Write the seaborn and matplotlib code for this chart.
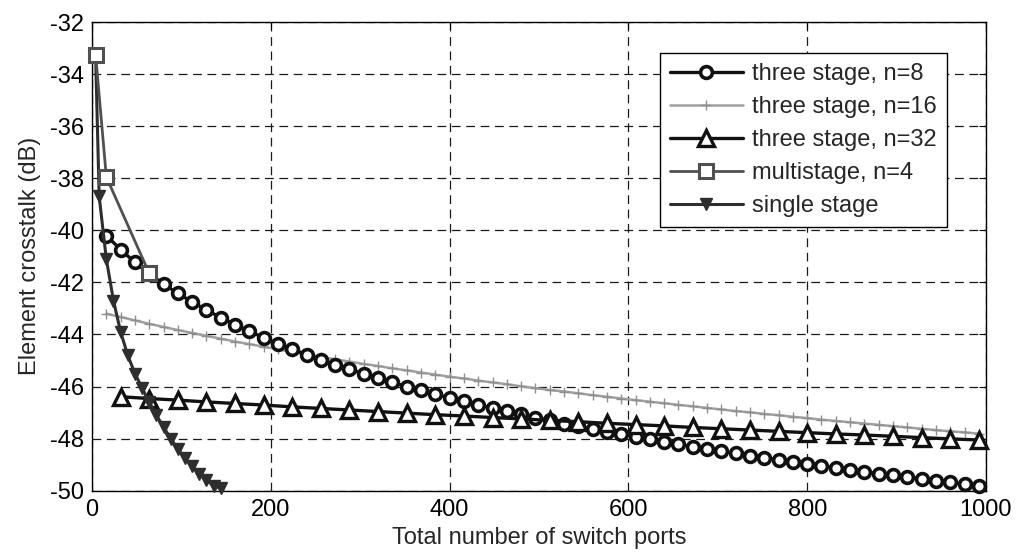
import numpy as np
import pandas as pd
import matplotlib
matplotlib.use("Agg")
import matplotlib.pyplot as plt
import seaborn as sns

# Total number of switch ports for each architecture
ports_n8 = list(range(16, 993, 16))
ports_n16 = list(range(16, 993, 16))
ports_n32 = list(range(32, 993, 32))
ports_multi = [4, 16, 64]
ports_single = [4, 8, 16, 24, 32, 40, 48, 56, 64, 72, 80, 88, 96, 104, 112, 120, 128, 136, 144]

# Required element crosstalk (dB)
xt_n8 = [-40.20, -40.74, -41.23, -41.66, -42.06, -42.42, -42.75, -43.06, -43.35, -43.62,
         -43.88, -44.12, -44.35, -44.57, -44.77, -44.97, -45.16, -45.34, -45.51, -45.68,
         -45.84, -46.00, -46.15, -46.29, -46.43, -46.57, -46.70, -46.83, -46.95, -47.07,
         -47.19, -47.30, -47.42, -47.52, -47.63, -47.73, -47.83, -47.93, -48.03, -48.12,
         -48.22, -48.31, -48.40, -48.48, -48.57, -48.65, -48.73, -48.81, -48.89, -48.97,
         -49.05, -49.12, -49.19, -49.27, -49.34, -49.41, -49.48, -49.54, -49.61, -49.68,
         -49.74, -49.81]
xt_n16 = [-43.20, -43.33, -43.46, -43.59, -43.71, -43.83, -43.94, -44.05, -44.16, -44.27,
          -44.37, -44.47, -44.57, -44.67, -44.77, -44.86, -44.95, -45.04, -45.13, -45.21,
          -45.30, -45.38, -45.46, -45.54, -45.62, -45.69, -45.77, -45.84, -45.91, -45.99,
          -46.06, -46.13, -46.19, -46.26, -46.33, -46.39, -46.46, -46.52, -46.58, -46.64,
          -46.70, -46.76, -46.82, -46.88, -46.94, -46.99, -47.05, -47.10, -47.16, -47.21,
          -47.27, -47.32, -47.37, -47.42, -47.47, -47.52, -47.57, -47.62, -47.67, -47.72,
          -47.76, -47.81]
xt_n32 = [-46.39, -46.46, -46.52, -46.59, -46.65, -46.71, -46.78, -46.84, -46.90, -46.96,
          -47.02, -47.08, -47.13, -47.19, -47.24, -47.30, -47.35, -47.41, -47.46, -47.51,
          -47.57, -47.62, -47.67, -47.72, -47.77, -47.82, -47.86, -47.91, -47.96, -48.01,
          -48.05]
xt_multi = [-33.25, -37.95, -41.65]
xt_single = [-33.25, -38.70, -41.10, -42.70, -43.90, -44.80, -45.50, -46.05, -46.60, -47.10,
             -47.55, -48.00, -48.40, -48.75, -49.05, -49.35, -49.60, -49.80, -49.90]

labels = ["three stage, n=8", "three stage, n=16", "three stage, n=32",
          "multistage, n=4", "single stage"]
x_ticks = [0, 200, 400, 600, 800, 1000]
y_ticks = [-32, -34, -36, -38, -40, -42, -44, -46, -48, -50]

sns.set_style("white")
plt.rcParams["font.family"] = ["Liberation Sans", "DejaVu Sans"]
plt.rcParams["axes.unicode_minus"] = False

fig = plt.figure(figsize=(10.19, 5.56), dpi=100)
ax = fig.add_axes([0.0903, 0.1174, 0.8773, 0.8430])

series = [
    (ports_n8, xt_n8, labels[0], dict(color="#111111", lw=2.4, marker="o", ms=8.5,
                                       mfc="white", mec="#111111", mew=2.6, zorder=4)),
    (ports_n16, xt_n16, labels[1], dict(color="#a0a0a0", lw=1.8, marker="+", ms=7,
                                         mec="#8f8f8f", mew=1.0, zorder=3)),
    (ports_n32, xt_n32, labels[2], dict(color="#111111", lw=2.4, marker="^", ms=12,
                                         mfc="white", mec="#111111", mew=2.4, zorder=5)),
    (ports_single, xt_single, labels[4], dict(color="#2e2e2e", lw=2.2, marker="v", ms=8.5,
                                               mfc="#2e2e2e", mec="#2e2e2e", mew=1.0, zorder=6)),
    (ports_multi, xt_multi, labels[3], dict(color="#505050", lw=2.0, marker="s", ms=9.5,
                                             mfc="white", mec="#505050", mew=2.2, zorder=7)),
]

for xs, ys, lab, kw in series:
    df = pd.DataFrame({"ports": xs, "xt": ys})
    sns.lineplot(data=df, x="ports", y="xt", ax=ax, label=lab, estimator=None,
                 sort=False, clip_on=False, **kw)

ax.set_xlim(0, 1000)
ax.set_ylim(-50, -32)
ax.set_xticks(x_ticks)
ax.set_yticks(y_ticks)
ax.tick_params(axis="both", labelsize=17, direction="in", length=5, width=0.8,
               top=True, right=True, pad=6, colors="black")
ax.grid(True, color="#1a1a1a", linestyle=(0, (7, 4.5)), linewidth=0.9)
for sp in ax.spines.values():
    sp.set_color("black")
    sp.set_linewidth(1.0)

ax.set_xlabel("Total number of switch ports", fontsize=17, labelpad=4)
ax.set_ylabel("Element crosstalk (dB)", fontsize=17, labelpad=6)

hl, lb = ax.get_legend_handles_labels()
order = [lb.index(l) for l in labels]
leg = ax.legend([hl[i] for i in order], [lb[i] for i in order],
                loc="upper right", bbox_to_anchor=(0.9564, 0.9339), borderaxespad=0,
                fontsize=17, frameon=True, fancybox=False, framealpha=1,
                edgecolor="black", handlelength=3.1, labelspacing=0.47,
                handletextpad=0.4, borderpad=0.42)
leg.get_frame().set_linewidth(1.0)
leg.set_zorder(10)

fig.savefig("out.png", dpi=100)
